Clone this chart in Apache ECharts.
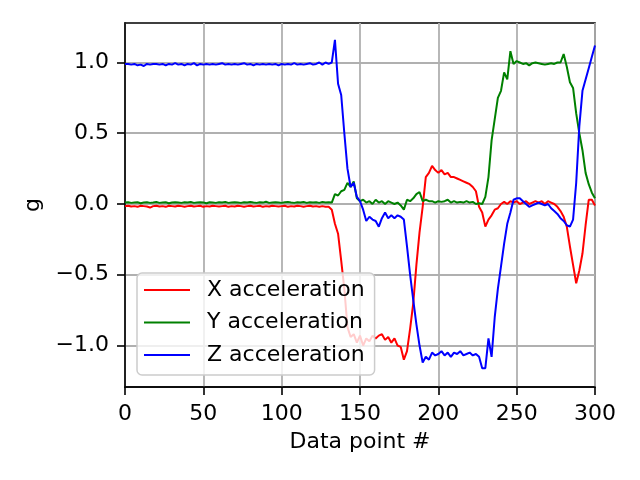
<!DOCTYPE html>
<html>
<head>
<meta charset="utf-8">
<script src="https://cdn.jsdelivr.net/npm/echarts@6/dist/echarts.min.js"></script>
<style>html,body{margin:0;padding:0;background:#fff}#c{width:640px;height:480px}</style>
</head>
<body>
<div id="c"></div>
<script>
const xValues = [0,2,4,6,8,10,12,14,16,18,20,22,24,26,28,30,32,34,36,38,40,42,44,46,48,50,52,54,56,58,60,62,64,66,68,70,72,74,76,78,80,82,84,86,88,90,92,94,96,98,100,102,104,106,108,110,112,114,116,118,120,122,124,126,128,130,
132,134,136,138,140,142,144,146,148,150,152,154,156,158,160,162,164,166,168,170,172,174,176,178,180,182,184,186,188,190,192,194,196,198,200,202,204,206,208,210,212,214,216,218,220,222,224,226,228,230,232,234,236,238,240,242,244,246,248,250,252,254,256,258,260,262,264,266,268,270,272,274,276,278,280,282,284,286,288,290,292,294,296,298,300];

const xAccel = [
-0.015,-0.012,-0.018,-0.015,-0.02,-0.012,-0.015,-0.018,-0.025,-0.015,
-0.012,-0.018,-0.015,-0.02,-0.012,-0.015,-0.018,-0.012,-0.015,-0.02,
-0.015,-0.012,-0.018,-0.015,-0.012,-0.02,-0.015,-0.018,-0.012,-0.015,
-0.018,-0.015,-0.012,-0.02,-0.015,-0.018,-0.012,-0.015,-0.02,-0.015,
-0.012,-0.018,-0.015,-0.012,-0.02,-0.015,-0.018,-0.012,-0.015,-0.018,
-0.015,-0.012,-0.02,-0.015,-0.018,-0.012,-0.015,-0.02,-0.015,-0.012,
-0.018,-0.015,-0.02,-0.015,-0.02,-0.02,
-0.04,-0.14,-0.21,-0.4,-0.6,-0.87,-0.94,-0.92,-0.98,-0.93,
-1.0,-0.95,-0.97,-0.93,-0.95,-0.93,-0.92,-0.96,-0.94,-0.98,
-0.95,-1.0,-1.01,-1.1,-1.04,-0.88,-0.7,-0.43,-0.2,-0.02,
0.19,0.22,0.27,0.24,0.22,0.24,0.21,0.22,0.19,0.19,
0.18,0.17,0.16,0.15,0.14,0.12,0.09,-0.02,-0.06,-0.16,
-0.11,-0.08,-0.04,-0.03,0.0,0.015,0.0,0.02,0.01,0.02,
0.0,0.01,0.02,0.0,0.01,0.02,0.01,0.02,0.0,0.02,
0.01,0.0,-0.02,-0.05,-0.09,-0.16,-0.3,-0.43,-0.56,-0.47,
-0.35,-0.15,0.03,0.03,-0.01];

const yAccel = [
0.01,0.012,0.008,0.01,0.012,0.006,0.01,0.012,0.008,0.01,
0.014,0.008,0.01,0.012,0.006,0.01,0.012,0.01,0.008,0.012,
0.01,0.014,0.008,0.01,0.012,0.01,0.006,0.012,0.01,0.008,
0.012,0.01,0.014,0.008,0.01,0.012,0.01,0.008,0.012,0.01,
0.014,0.01,0.008,0.012,0.01,0.016,0.008,0.01,0.012,0.01,
0.008,0.012,0.014,0.01,0.008,0.012,0.01,0.014,0.008,0.012,
0.01,0.012,0.008,0.014,0.01,0.012,
0.01,0.07,0.06,0.09,0.1,0.15,0.12,0.16,0.04,0.02,
0.03,0.01,0.02,0.0,0.03,0.01,0.02,0.0,0.02,0.01,
0.0,0.01,-0.01,-0.04,0.03,0.02,0.04,0.07,0.085,0.02,
0.03,0.02,0.02,0.01,0.02,0.015,0.02,0.03,0.01,0.02,
0.01,0.015,0.01,0.02,0.01,0.015,0.0,0.005,0.0,0.05,
0.19,0.45,0.6,0.75,0.8,0.93,0.88,1.08,0.99,1.01,
1.0,0.99,0.995,0.98,0.995,1.0,0.995,0.99,0.985,0.99,
0.995,0.99,1.0,1.0,1.06,0.97,0.86,0.82,0.64,0.5,
0.38,0.22,0.14,0.08,0.04];

const zAccel = [
0.99,0.99,0.985,0.99,0.98,0.985,0.975,0.99,0.985,0.99,
0.99,0.985,0.99,0.98,0.99,0.985,0.995,0.985,0.99,0.98,
0.99,0.985,0.995,0.98,0.99,0.985,0.99,0.985,0.99,0.985,
0.99,0.995,0.985,0.99,0.985,0.99,0.985,0.99,0.995,0.985,
0.99,0.98,0.99,0.985,0.99,0.985,0.99,0.985,0.99,0.98,
0.99,0.985,0.99,0.985,0.995,0.985,0.99,0.985,0.99,0.995,
0.985,0.99,1.0,0.985,1.0,0.99,
1.0,1.16,0.85,0.77,0.5,0.25,0.12,0.15,0.05,0.02,
-0.04,-0.12,-0.09,-0.11,-0.12,-0.16,-0.1,-0.06,-0.1,-0.08,
-0.1,-0.08,-0.09,-0.11,-0.3,-0.5,-0.68,-0.85,-1.0,-1.12,
-1.08,-1.1,-1.05,-1.07,-1.06,-1.04,-1.07,-1.05,-1.08,-1.05,
-1.06,-1.04,-1.07,-1.06,-1.05,-1.07,-1.06,-1.08,-1.16,-1.16,
-0.95,-1.08,-0.8,-0.6,-0.44,-0.28,-0.14,-0.06,0.03,0.04,
0.04,0.02,0.0,-0.02,-0.01,0.0,0.01,0.0,-0.01,0.0,
-0.03,-0.05,-0.07,-0.1,-0.12,-0.15,-0.16,-0.11,0.15,0.55,
0.8,0.88,0.96,1.04,1.12];

const seriesNames = ['X acceleration', 'Y acceleration', 'Z acceleration'];
const seriesColors = ['#ff0000', '#008000', '#0000ff'];
const yTicks = [-1.0, -0.5, 0.0, 0.5, 1.0];
const xTicks = [0, 50, 100, 150, 200, 250, 300];

function pairs(vals) { return xValues.map((x, i) => [x, vals[i]]); }

const FONT = 'DejaVu Sans';
const chart = echarts.init(document.getElementById('c'), null, {renderer: 'canvas'});
const seriesData = [xAccel, yAccel, zAccel];

chart.setOption({
  animation: false,
  backgroundColor: '#ffffff',
  textStyle: {fontFamily: FONT},
  grid: {left: 125, right: 45, top: 23, bottom: 93, show: true, borderColor: '#000', borderWidth: 1.6, backgroundColor: 'transparent'},
  legend: {
    orient: 'vertical', left: 137, top: 273,
    padding: [6, 10, 9, 7],
    itemWidth: 46, itemHeight: 2, itemGap: 10.5,
    icon: 'rect',
    backgroundColor: 'rgba(255,255,255,0.8)',
    borderColor: '#cccccc', borderWidth: 1.5, borderRadius: 5,
    textStyle: {fontFamily: FONT, fontSize: 22, color: '#000', lineHeight: 22, padding: [0, 0, 0, 12]},
    data: seriesNames
  },
  xAxis: {
    type: 'value', min: 0, max: 300, interval: 50,
    name: 'Data point #', nameLocation: 'middle', nameGap: 44,
    nameTextStyle: {fontFamily: FONT, fontSize: 22, color: '#000'},
    axisLine: {show: true, onZero: false, lineStyle: {color: '#000', width: 1.6}},
    axisTick: {show: true, length: 8, lineStyle: {color: '#000', width: 1.6}},
    axisLabel: {fontFamily: FONT, fontSize: 22, color: '#000', margin: 16,
      formatter: v => xTicks.includes(v) ? String(v) : ''},
    splitLine: {show: true, lineStyle: {color: '#b0b0b0', width: 1.8}}
  },
  yAxis: {
    type: 'value', min: -1.293, max: 1.279,
    name: 'g', nameLocation: 'middle', nameGap: 75, nameRotate: 90,
    nameTextStyle: {fontFamily: FONT, fontSize: 22, color: '#000'},
    axisLine: {show: true, onZero: false, lineStyle: {color: '#000', width: 1.6}},
    axisTick: {show: true, length: 8, customValues: yTicks, lineStyle: {color: '#000', width: 1.6}},
    axisLabel: {fontFamily: FONT, fontSize: 22, color: '#000', margin: 16, customValues: yTicks,
      formatter: v => (v < 0 ? '\u2212' : '') + Math.abs(v).toFixed(1)},
    splitLine: {show: true, lineStyle: {color: '#b0b0b0', width: 1.8}}
  },
  series: seriesNames.map((n, i) => ({
    name: n, type: 'line', data: pairs(seriesData[i]),
    showSymbol: false, symbol: 'none',
    lineStyle: {color: seriesColors[i], width: 2},
    itemStyle: {color: seriesColors[i]},
    emphasis: {disabled: true}
  }))
});
</script>
</body>
</html>
